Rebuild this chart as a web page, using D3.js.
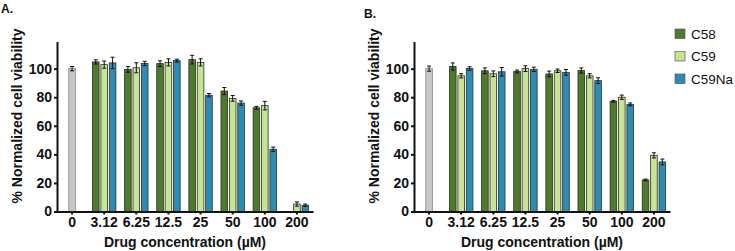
<!DOCTYPE html>
<html lang="en">
<head>
    <meta charset="UTF-8">
    <title>Normalized cell viability vs drug concentration</title>
    <script src="https://d3js.org/d3.v7.min.js"></script>
    <style>
        body { margin: 0; background: #fff; }
        text { font-family: Arial, "Liberation Sans", sans-serif; fill: #111; }
        .axis path, .axis line { stroke: #111; stroke-width: 2; }
        .axis text { font-size: 14px; font-weight: bold; }
        .axis-title { font-size: 14px; font-weight: bold; }
        .panel-letter { font-size: 12px; font-weight: bold; }
        .legend-label { font-size: 13.5px; }
    </style>
</head>
<body>
<svg width="735" height="251"></svg>
<script>
    // categories and tick values
    const concentrations = ["0", "3.12", "6.25", "12.5", "25", "50", "100", "200"];
    const compounds = ["C58", "C59", "C59Na"];
    const yTicks = [0, 20, 40, 60, 80, 100];

    // untreated control (the grey bar at 0)
    const controlA = 100, controlErrA = 1.5;
    const controlB = 100, controlErrB = 1.8;

    // panel A values, one per concentration after 0 (null = no bar)
    const a_C58      = [104.7, 99.5, 103.5, 106.3, 84.3, 72.6, null];
    const a_C58_err  = [1.5, 2.0, 2.0, 3.0, 2.5, 1.0, 0];
    const a_C59      = [102.8, 100.6, 104.4, 104.4, 79.2, 74.1, 5.2];
    const a_C59_err  = [2.5, 3.5, 2.5, 2.5, 2.0, 3.0, 1.5];
    const a_C59Na    = [104.0, 103.6, 105.6, 81.4, 75.9, 43.6, 4.4];
    const a_C59Na_err = [4.0, 1.5, 1.0, 1.2, 1.5, 1.5, 0.8];

    // panel B values
    const b_C58      = [101.5, 98.5, 98.0, 96.3, 98.7, 77.2, 22.1];
    const b_C58_err  = [2.5, 2.0, 1.0, 2.0, 1.8, 0.6, 0.6];
    const b_C59      = [95.0, 96.4, 100.0, 98.5, 95.0, 80.0, 39.3];
    const b_C59_err  = [1.5, 2.0, 2.0, 1.2, 1.5, 1.5, 1.8];
    const b_C59Na    = [100.1, 97.8, 99.5, 97.4, 91.6, 75.0, 34.7];
    const b_C59Na_err = [1.2, 3.0, 1.5, 2.0, 2.0, 1.0, 2.0];

    const colors = { C58: "#4e7b2a", C59: "#c7e394", C59Na: "#2c8cb6" };
    const controlColor = "#c6c6c6";

    const svg = d3.select("svg");

    const y = d3.scaleLinear().domain([0, 119]).range([211.5, 41.5]);
    const x = d3.scaleBand().domain(concentrations).range([-1, 256]);
    const barW = 6.6, offset = 8.4;

    function drawPanel(x0, letter, letterPos, control, controlErr, series) {
        const g = svg.append("g").attr("transform", `translate(${x0},0)`);

        // build rows: {conc, compound, value, err}
        const rows = [{ conc: "0", key: "control", value: control, err: controlErr, dx: 0 }];
        compounds.forEach((c, ci) => {
            series[c].values.forEach((v, i) => {
                if (v === null) return;
                rows.push({ conc: concentrations[i + 1], key: c, value: v,
                            err: series[c].errs[i], dx: (ci - 1) * offset });
            });
        });
        const cx = d => x(d.conc) + x.bandwidth() / 2 + d.dx;

        g.selectAll(".bar").data(rows).enter().append("rect")
            .attr("class", "bar")
            .attr("x", d => cx(d) - barW / 2)
            .attr("y", d => y(d.value))
            .attr("width", barW)
            .attr("height", d => y(0) - y(d.value))
            .attr("fill", d => d.key === "control" ? controlColor : colors[d.key])
            .attr("stroke", d => d.key === "control" ? "#8a8a8a" : "#2a2f25")
            .attr("stroke-width", 0.8);

        // error bars
        const eb = g.selectAll(".err").data(rows.filter(d => d.err > 0)).enter().append("g")
            .attr("stroke", "#111").attr("stroke-width", 1);
        eb.append("line")
            .attr("x1", cx).attr("x2", cx)
            .attr("y1", d => y(d.value + d.err)).attr("y2", d => y(d.value - d.err));
        eb.append("line")
            .attr("x1", d => cx(d) - 2).attr("x2", d => cx(d) + 2)
            .attr("y1", d => y(d.value + d.err)).attr("y2", d => y(d.value + d.err));
        eb.append("line")
            .attr("x1", d => cx(d) - 2).attr("x2", d => cx(d) + 2)
            .attr("y1", d => y(d.value - d.err)).attr("y2", d => y(d.value - d.err));

        // axes
        g.append("g").attr("class", "axis")
            .call(d3.axisLeft(y).tickValues(yTicks).tickSize(3).tickSizeOuter(0).tickPadding(2));
        g.append("g").attr("class", "axis")
            .attr("transform", `translate(0,${y(0)})`)
            .call(d3.axisBottom(x).tickSize(3).tickSizeOuter(0).tickPadding(2.5));

        g.append("text").attr("class", "axis-title")
            .attr("x", 128).attr("y", 246.5).attr("text-anchor", "middle")
            .text("Drug concentration (µM)");
        g.append("text").attr("class", "axis-title")
            .attr("transform", "translate(-35,116) rotate(-90)")
            .attr("text-anchor", "middle")
            .text("% Normalized cell viability");

        svg.append("text").attr("class", "panel-letter")
            .attr("x", letterPos[0]).attr("y", letterPos[1]).text(letter);
    }

    drawPanel(57, "A.", [1, 12.5], controlA, controlErrA, {
        C58: { values: a_C58, errs: a_C58_err },
        C59: { values: a_C59, errs: a_C59_err },
        C59Na: { values: a_C59Na, errs: a_C59Na_err }
    });
    drawPanel(414, "B.", [364, 18], controlB, controlErrB, {
        C58: { values: b_C58, errs: b_C58_err },
        C59: { values: b_C59, errs: b_C59_err },
        C59Na: { values: b_C59Na, errs: b_C59Na_err }
    });

    // legend
    const legend = svg.append("g").attr("transform", "translate(675,29)");
    compounds.forEach((c, i) => {
        const row = legend.append("g").attr("transform", `translate(0,${i * 22.5})`);
        row.append("rect").attr("width", 10).attr("height", 9.5)
            .attr("fill", colors[c]).attr("stroke", "#4a4a4a").attr("stroke-width", 0.6);
        row.append("text").attr("class", "legend-label")
            .attr("x", 16).attr("y", 9.5).text(c);
    });
</script>
</body>
</html>
